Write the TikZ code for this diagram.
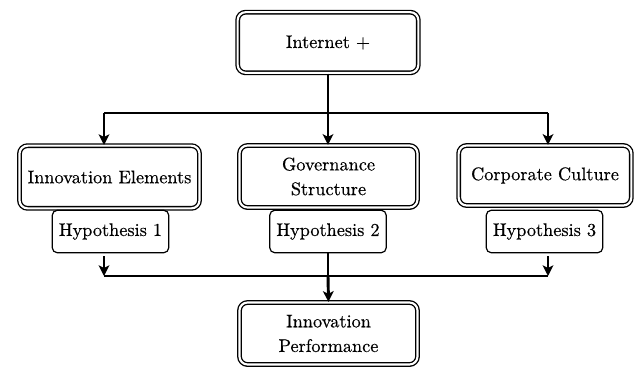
\documentclass[tikz,border=0pt]{standalone}
\usepackage{fontspec}
\newfontfamily\boxfont{lmroman10-regular.otf}[FakeBold=0.4]
\usetikzlibrary{arrows.meta}
\begin{document}
\begin{tikzpicture}[x=0.75pt,y=-0.75pt,
  mainbox/.style={draw=black, line width=1pt, double=white, double distance=1.6pt,
    rounded corners=6pt, align=center, inner sep=0pt,
    font=\boxfont\fontsize{13.7}{18.5}\selectfont},
  hypbox/.style={draw=black, line width=0.9pt, fill=white, rounded corners=4pt,
    align=center, inner sep=0pt, minimum width=87.5pt, minimum height=32pt,
    font=\boxfont\fontsize{13.7}{18.5}\selectfont},
  conn/.style={line width=2.2pt},
  arr/.style={conn, -{Stealth[length=8pt,width=8pt,inset=2pt]}}]
\useasboundingbox[fill=white] (0,0) rectangle (640,369);
% main boxes
\node[mainbox, minimum width=135.5pt, minimum height=45.5pt] (inet) at (328,42.5) {Internet +};
\node[mainbox, minimum width=135pt, minimum height=47pt] (ie) at (109.5,177) {Innovation Elements};
\node[mainbox, minimum width=133.5pt, minimum height=46.5pt] (gs) at (328.5,176.5) {Governance\\Structure};
\node[mainbox, minimum width=129.5pt, minimum height=45pt] (cc) at (545,175.5) {Corporate Culture};
\node[mainbox, minimum width=133.5pt, minimum height=46.5pt] (ip) at (328.5,333.5) {Innovation\\Performance};
% hypothesis boxes
\node[hypbox] (h1) at (110.5,231.5) {Hypothesis 1};
\node[hypbox] (h2) at (328,231.5) {Hypothesis 2};
\node[hypbox] (h3) at (544.5,231.5) {Hypothesis 3};
% top distribution
\coordinate (t1) at (104,113);
\coordinate (t2) at (328,113);
\coordinate (t3) at (548,113);
\draw[conn] (inet.south) -- (t2);
\draw[conn] (t1) -- (t3);
\draw[arr] (t1) -- (t1 |- ie.north);
\draw[arr] (t2) -- (t2 |- gs.north);
\draw[arr] (t3) -- (t3 |- cc.north);
% bottom collection
\coordinate (b1) at (104,276);
\coordinate (b3) at (548,276);
\draw[conn] (b1) -- (b3);
\draw[arr] (b1 |- h1.south) ++(0,3) -- (b1);
\draw[arr] (b3 |- h3.south) ++(0,3) -- (b3);
\draw[conn, line width=1.2pt] (h2.south) -- (h2.south |- b1);
\draw[arr] (h2.south |- b1) -- (ip.north);
\end{tikzpicture}
\end{document}
